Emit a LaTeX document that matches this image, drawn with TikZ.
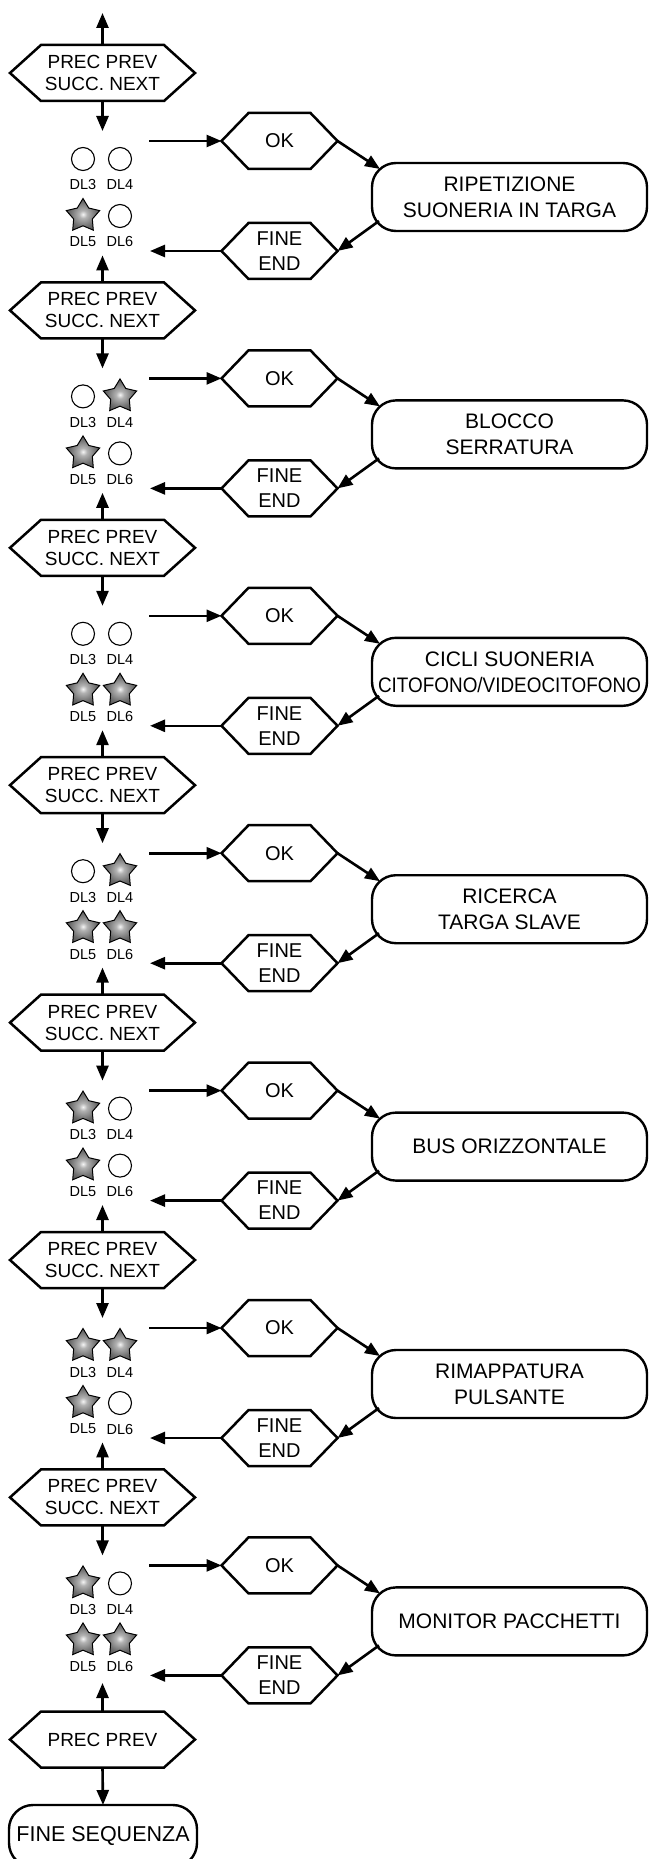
\documentclass[tikz,border=0pt]{standalone}
\usepackage{graphicx}
\usepackage{fontspec}
\setmainfont{Liberation Sans}
\usetikzlibrary{arrows.meta}
\pgfdeclareradialshading{ledshade}{\pgfpoint{0bp}{0bp}}{color(0bp)=(white!96!black); color(6bp)=(black!30); color(20bp)=(black!58); color(34bp)=(black!72); color(50bp)=(black!82)}
\tikzset{
  hexbase/.style={rectangle, minimum height=56pt, inner sep=0pt, outer sep=0pt, align=center},
  hexline/.style={line width=2.5pt, line join=miter},
  navtxt/.style={font=\fontsize{19}{22}\selectfont},
  oktxt/.style={font=\fontsize{20}{25}\selectfont},
  rbox/.style={draw, rectangle, rounded corners=24pt, minimum width=275pt, minimum height=68pt,
    line width=2.4pt, align=center, inner sep=0pt, outer sep=0pt, font=\fontsize{21}{26}\selectfont},
  endbox/.style={draw, rectangle, rounded corners=24pt, minimum width=188pt, minimum height=62pt,
    line width=2.4pt, align=center, inner sep=0pt, outer sep=0pt, font=\fontsize{21.5}{26}\selectfont},
  arr/.style={line width=2.6pt, -{Triangle[length=15pt,width=12pt]}},
  ledoff/.style={circle, draw, line width=1.1pt, minimum size=23pt, inner sep=0pt},
  ledbase/.style={circle, minimum size=33pt, inner sep=0pt},
  ledstar/.style={draw, line width=1pt, line join=miter, shade, shading=ledshade},
  dl/.style={font=\fontsize{14.5}{16}\selectfont, inner sep=0pt},
}
% name, position, width, inset, text style, text
\newcommand\hexa[6]{%
  \node[hexbase, #5, minimum width=#3] (#1) at (#2) {#6};
  \draw[hexline] (#1.west) -- ([xshift=#4]#1.north west) -- ([xshift=-#4]#1.north east)
    -- (#1.east) -- ([xshift=-#4]#1.south east) -- ([xshift=#4]#1.south west) -- cycle;
}
% name, position, state
\newcommand\ledx[3]{%
  \ifnum#3=1
    \node[ledbase] (#1) at (#2) {};
    \path[ledstar] ([shift={(90:17.5pt)}]#1.center) -- ([shift={(126:9.8pt)}]#1.center)
      -- ([shift={(162:17.5pt)}]#1.center) -- ([shift={(198:9.8pt)}]#1.center)
      -- ([shift={(234:17.5pt)}]#1.center) -- ([shift={(270:9.8pt)}]#1.center)
      -- ([shift={(306:17.5pt)}]#1.center) -- ([shift={(342:9.8pt)}]#1.center)
      -- ([shift={(18:17.5pt)}]#1.center) -- ([shift={(54:9.8pt)}]#1.center) -- cycle;
  \else \node[ledoff] (#1) at (#2) {};\fi
}
\newcommand\stage[6]{%
  \pgfmathsetmacro\ny{73+237.4*#1}%
  \pgfmathsetmacro\nyA{\ny+68}%
  \pgfmathsetmacro\nyB{\ny+178}%
  \pgfmathsetmacro\nyC{\ny+124}%
  \pgfmathsetmacro\nyD{\ny+86}%
  \pgfmathsetmacro\nyE{\ny+143}%
  \pgfmathsetmacro\nyF{\ny+112}%
  \pgfmathsetmacro\nyG{\ny+169}%
  \pgfmathsetmacro\nyH{\ny+58}%
  \pgfmathsetmacro\nyI{\ny-55}%
  \ifnum#1=0 \def\nyI{13}\fi
  \hexa{nav#1}{102.5,\ny}{185pt}{31pt}{navtxt}{PREC PREV\\SUCC. NEXT}
  \hexa{ok#1}{279.5,\nyA}{116pt}{27pt}{oktxt}{OK}
  \hexa{fine#1}{279.5,\nyB}{116pt}{27pt}{oktxt}{FINE\\END}
  \node[rbox] (box#1) at (509.5,\nyC) {#6};
  \ledx{la#1}{83,\nyD}{#2}
  \ledx{lb#1}{120,\nyD}{#3}
  \ledx{lc#1}{83,\nyE}{#4}
  \ledx{ld#1}{120,\nyE}{#5}
  \node[dl] (ta#1) at (83,\nyF) {DL3};
  \node[dl] (tb#1) at (120,\nyF) {DL4};
  \node[dl] (tc#1) at (83,\nyG) {DL5};
  \node[dl] (td#1) at (120,\nyG) {DL6};
  \coordinate (up#1) at (102.5,\nyI);
  \coordinate (dn#1) at (102.5,\nyH);
  \coordinate (in#1) at (149,\nyA);
  \coordinate (out#1) at (150,\nyB);
  \draw[arr] (nav#1.north) -- (up#1);
  \draw[arr] (nav#1.south) -- (dn#1);
  \draw[arr] (in#1) -- (ok#1.west);
  \draw[arr] (ok#1.east) -- ([xshift=8pt,yshift=-6pt]box#1.north west);
  \draw[arr] ([xshift=7pt,yshift=10pt]box#1.south west) -- (fine#1.east);
  \draw[arr] (fine#1.west) -- (out#1);
}
\begin{document}
\begin{tikzpicture}[x=1pt,y=-1pt]
\useasboundingbox (0,0) rectangle (649,1859);
\stage{0}{0}{0}{1}{0}{RIPETIZIONE\\SUONERIA IN TARGA}
\stage{1}{0}{1}{1}{0}{BLOCCO\\SERRATURA}
\stage{2}{0}{0}{1}{1}{CICLI SUONERIA\\\scalebox{0.9}[1]{CITOFONO/VIDEOCITOFONO}}
\stage{3}{0}{1}{1}{1}{RICERCA\\TARGA SLAVE}
\stage{4}{1}{0}{1}{0}{BUS ORIZZONTALE}
\stage{5}{1}{1}{1}{0}{RIMAPPATURA\\PULSANTE}
\stage{6}{1}{0}{1}{1}{MONITOR PACCHETTI}
\hexa{nav7}{102.5,1739.5}{185pt}{31pt}{navtxt}{PREC PREV}
\node[endbox] (seqend) at (103,1836) {FINE SEQUENZA};
\coordinate (up7) at (102.5,1683);
\draw[arr] (nav7.north) -- (up7);
\draw[arr] (nav7.south) -- (seqend.north);
\end{tikzpicture}
\end{document}
